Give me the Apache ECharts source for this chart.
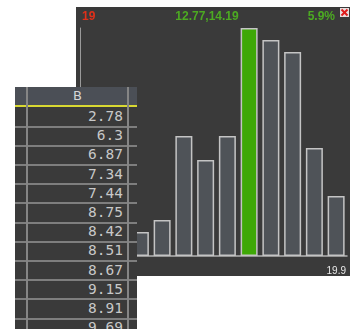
<!DOCTYPE html>
<html>
<head>
<meta charset="utf-8">
<script src="https://cdn.jsdelivr.net/npm/echarts@6/dist/echarts.min.js"></script>
<style>
    html,body{margin:0;padding:0;background:#fff;width:350px;height:329px;overflow:hidden;position:relative;}
    #histBox{position:absolute;left:76px;top:7px;width:274px;height:269px;}
    #tbl{position:absolute;left:15px;top:87px;width:122px;height:250px;background:#3a3a3a;overflow:hidden;}
    #tbl .head{position:absolute;left:0;top:0;width:122px;height:18px;background:#4b4f56;}
    #tbl .headTxt{position:absolute;left:12px;width:101px;top:0;height:18px;line-height:18px;text-align:center;
        font-family:"DejaVu Sans",sans-serif;font-size:13px;color:#d6d6d6;}
    #tbl .yel{position:absolute;left:0;top:18px;width:122px;height:2px;background:#d8d832;}
    #tbl .vl{position:absolute;top:0;width:2px;height:250px;background:#858585;}
    #tbl .hl{position:absolute;left:0;width:122px;height:2px;background:#7e7e7e;}
    #tbl .cell{position:absolute;left:12px;width:96px;height:19px;line-height:19px;text-align:right;
        font-family:"DejaVu Sans Mono",monospace;font-size:14.5px;color:#c8c8c8;}
</style>
</head>
<body>
<div id="histBox"></div>
<div id="tbl"></div>
<script>
// 直方图数据 (12 bins, first two sit behind the table)
var binEdges = [2.78, 4.20, 5.63, 7.05, 8.48, 9.90, 11.32, 12.77, 14.19, 15.60, 17.02, 18.45, 19.87];
var binCounts = [1, 1, 2, 3, 10, 8, 10, 19, 18, 17, 9, 5];
var activeBin = 7;
var pctText = '5.9%';
var xMaxText = '19.9';

// 表格数据
var colTitle = 'B';
var colValues = ['2.78', '6.3', '6.87', '7.34', '7.44', '8.75', '8.42', '8.51', '8.67', '9.15', '8.91', '9.69'];

var binLabels = [];
for (var i = 0; i < binCounts.length; i++) {
    binLabels.push(binEdges[i] + ',' + binEdges[i + 1]);
}
var maxCount = Math.max.apply(null, binCounts);

var barData = binCounts.map(function (v, idx) {
    if (idx == activeBin) {
        return {value: v, itemStyle: {color: '#3ea806'}};
    }
    return v;
});

var myChart = echarts.init(document.getElementById('histBox'));
myChart.setOption({
    backgroundColor: '#3a3a3a',
    animation: false,
    grid: {left: 10, right: 3, top: 21, bottom: 20},
    xAxis: {
        type: 'category',
        data: binLabels,
        axisLine: {lineStyle: {color: '#b4b4b4', width: 1.5}},
        axisTick: {show: false},
        axisLabel: {show: false}
    },
    yAxis: {
        type: 'value',
        min: 0,
        max: maxCount,
        offset: 6,
        axisLine: {show: true, lineStyle: {color: '#9a9a9a', width: 1}},
        axisTick: {show: false},
        axisLabel: {show: false},
        splitLine: {show: false}
    },
    series: [{
        type: 'bar',
        data: barData,
        barWidth: 17,
        itemStyle: {color: '#4f5358', borderColor: '#c4c4c4', borderWidth: 1.5}
    }],
    graphic: [
        {type: 'text', left: 6, top: 4, style: {text: String(maxCount), fill: '#e0301a', font: 'bold 12px "Liberation Sans", Arial'}},
        {type: 'text', x: 131, y: 10, style: {text: binLabels[activeBin], fill: '#4caa22', font: 'bold 12px "Liberation Sans", Arial', align: 'center', verticalAlign: 'middle'}},
        {type: 'text', x: 259, y: 10, style: {text: pctText, fill: '#4caa22', font: 'bold 12px "Liberation Sans", Arial', align: 'right', verticalAlign: 'middle'}},
        {type: 'rect', shape: {x: 264, y: 1, width: 9, height: 9}, style: {fill: '#eadede'}},
        {type: 'line', shape: {x1: 265.5, y1: 2.5, x2: 271.5, y2: 8.5}, style: {stroke: '#e01c1c', lineWidth: 2}},
        {type: 'line', shape: {x1: 271.5, y1: 2.5, x2: 265.5, y2: 8.5}, style: {stroke: '#e01c1c', lineWidth: 2}},
        {type: 'text', x: 270, y: 264, style: {text: xMaxText, fill: '#e8e8e8', font: '10px "Liberation Sans", Arial', align: 'right', verticalAlign: 'middle'}}
    ]
});

//左侧表格
function buildTable() {
    var html = '<div class="head"></div><div class="headTxt">' + colTitle + '</div><div class="yel"></div>';
    for (var i = 0; i < colValues.length; i++) {
        var top = 20 + i * 19.2;
        html += '<div class="cell" style="top:' + top + 'px">' + colValues[i] + '</div>';
        html += '<div class="hl" style="top:' + (top + 18.5) + 'px"></div>';
    }
    html += '<div class="vl" style="left:11px"></div><div class="vl" style="left:112px"></div>';
    document.getElementById('tbl').innerHTML = html;
}
buildTable();
</script>
</body>
</html>
